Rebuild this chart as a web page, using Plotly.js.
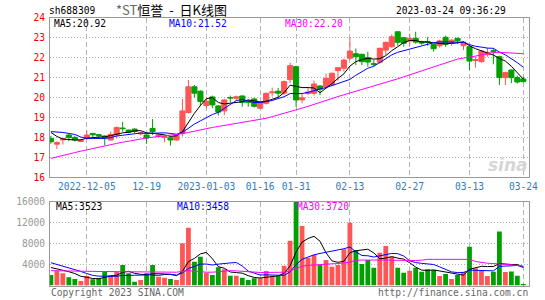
<!DOCTYPE html>
<html><head><meta charset="utf-8">
<script src="https://cdn.plot.ly/plotly-3.0.1.min.js"></script>
<style>html,body{margin:0;padding:0;background:#fff;}#chart{width:545px;height:300px;}</style>
</head><body><div id="chart"></div>
<script>
// trading days (categories)
const dates = [
'2022-11-25','2022-11-28','2022-11-29','2022-11-30',
'2022-12-01','2022-12-02','2022-12-05','2022-12-06','2022-12-07','2022-12-08','2022-12-09','2022-12-12','2022-12-13','2022-12-14','2022-12-15','2022-12-16','2022-12-19','2022-12-20','2022-12-21','2022-12-22','2022-12-23','2022-12-26','2022-12-27','2022-12-28','2022-12-29','2022-12-30',
'2023-01-03','2023-01-04','2023-01-05','2023-01-06','2023-01-09','2023-01-10','2023-01-11','2023-01-12','2023-01-13','2023-01-16','2023-01-17','2023-01-18','2023-01-19','2023-01-20','2023-01-30','2023-01-31',
'2023-02-01','2023-02-02','2023-02-03','2023-02-06','2023-02-07','2023-02-08','2023-02-09','2023-02-10','2023-02-13','2023-02-14','2023-02-15','2023-02-16','2023-02-17','2023-02-20','2023-02-21','2023-02-22','2023-02-23','2023-02-24','2023-02-27','2023-02-28',
'2023-03-01','2023-03-02','2023-03-03','2023-03-06','2023-03-07','2023-03-08','2023-03-09','2023-03-10','2023-03-13','2023-03-14','2023-03-15','2023-03-16','2023-03-17','2023-03-20','2023-03-21','2023-03-22','2023-03-23','2023-03-24'];

const tickDates = ['2022-12-05','2022-12-19','2023-01-03','2023-01-16','2023-01-31','2023-02-13','2023-02-27','2023-03-13','2023-03-24'];
const tickText  = ['2022-12-05','12-19','2023-01-03','01-16','01-31','02-13','02-27','03-13','03-24'];

const open  = [17.95,17.66,17.88,18.12,18.0,17.8,18.0,18.2,18.14,18.07, 17.87,18.12,18.47,18.37,18.42,18.18,18.12,18.45,18.05,18.0, 17.98,17.87,18.2,19.25,20.54,20.32,19.6,20.03,19.58,19.33, 20.0,19.96,20.08,19.83,19.93,19.46,19.71,20.24,20.32,20.22, 20.9,21.55,19.88,20.2,20.21,20.58,20.54,20.63,21.35,21.47, 21.97,22.2,22.17,22.0,21.7,21.77,22.38,22.55,23.3,23.0, 22.84,22.97,22.8,22.8,22.67,22.6,23.02,22.72,22.97,22.6, 22.55,21.86,21.8,22.15,22.35,22.05,21.0,21.38,21.0,20.93];
const high  = [18.08,17.8,17.96,18.2,18.08,17.9,18.36,18.21,18.18,18.1, 18.3,18.54,18.78,18.4,18.45,18.28,18.15,18.92,18.18,18.1, 18.05,18.15,19.93,20.88,20.63,20.36,20.04,20.1,19.62,19.93, 20.1,20.1,20.1,19.9,19.98,19.8,20.25,20.5,20.48,20.85, 21.75,21.6,20.21,20.47,20.85,20.62,21.2,21.25,21.5,21.95, 23.0,22.46,22.2,22.3,21.9,22.5,22.8,23.17,23.32,23.02, 23.2,23.3,22.85,23.03,22.7,22.9,23.1,22.92,23.0,22.8, 22.6,22.05,22.38,22.5,22.47,22.1,21.3,21.4,21.1,21.05];
const low   = [17.68,17.42,17.65,17.8,17.8,17.76,17.87,17.95,17.95,17.6, 17.85,17.95,18.28,18.2,18.22,18.1,17.68,18.12,17.97,17.75, 17.59,17.83,18.05,19.2,20.0,19.58,19.46,19.47,19.1,19.13, 19.75,19.85,19.54,19.54,19.5,19.42,19.65,20.05,19.98,20.12, 20.72,19.54,19.71,20.13,20.1,20.13,20.45,20.6,20.85,21.3, 21.88,21.63,21.63,21.55,21.55,21.7,22.13,22.5,22.6,22.55, 22.6,22.7,22.65,22.6,22.3,22.5,22.55,22.6,22.7,22.38, 21.38,21.5,21.75,22.05,21.67,20.63,20.63,20.72,20.7,20.75];
const close = [17.78,17.74,17.94,18.0,17.87,17.85,18.12,18.13,18.08,17.97, 18.15,18.5,18.44,18.26,18.3,18.22,17.97,18.3,18.12,18.04, 17.87,18.12,19.33,20.54,20.22,19.8,19.82,19.63,19.27,19.88, 19.98,20.04,19.76,19.76,19.56,19.76,20.21,20.28,20.22,20.8, 21.6,19.88,19.99,20.28,20.68,20.42,20.97,21.22,21.5,21.88, 22.33,22.05,21.8,21.78,21.67,22.47,22.77,23.05,22.77,22.72, 22.97,22.78,22.73,22.77,22.45,22.84,22.67,22.88,22.85,22.77, 21.83,21.9,22.33,22.27,22.32,21.0,21.25,21.0,20.78,20.8];

const ma5  = [18.25,18.05,17.92,17.88,17.87,17.88,17.96,17.99,18.01,18.03, 18.09,18.17,18.23,18.26,18.33,18.34,18.23,18.21,18.18,18.13, 18.05,18.08,18.29,18.77,19.21,19.6,19.94,20.0,19.75,19.68, 19.72,19.76,19.79,19.88,19.82,19.78,19.81,19.91,20.01,20.25, 20.62,20.56,20.5,20.5,20.48,20.24,20.46,20.7,20.96,21.19, 21.58,21.8,21.91,21.97,21.93,21.95,22.1,22.35,22.55,22.76, 22.86,22.86,22.79,22.79,22.74,22.71,22.69,22.72,22.74,22.8, 22.6,22.45,22.34,22.22,22.13,21.96,21.83,21.57,21.27,20.92];
const ma10 = [18.29,18.28,18.25,18.2,18.15,18.02,17.95,17.95,17.95,17.95, 17.99,18.07,18.11,18.14,18.18,18.22,18.2,18.22,18.22,18.23, 18.2,18.16,18.25,18.48,18.67,18.83,19.01,19.15,19.26,19.45, 19.66,19.85,19.9,19.82,19.75,19.75,19.79,19.85,19.95,20.04, 20.2,20.19,20.2,20.26,20.36,20.43,20.5,20.6,20.72,20.83, 20.91,21.12,21.3,21.47,21.57,21.77,21.96,22.14,22.27,22.35, 22.41,22.48,22.57,22.67,22.75,22.79,22.78,22.76,22.77,22.77, 22.66,22.57,22.53,22.48,22.47,22.28,22.14,21.96,21.75,21.52];
const ma30 = [16.95,17.03,17.1,17.17,17.24,17.31,17.38,17.45,17.52,17.58, 17.64,17.7,17.76,17.82,17.87,17.92,17.97,18.01,18.04,18.07, 18.1,18.14,18.19,18.25,18.32,18.38,18.44,18.5,18.55,18.6, 18.65,18.7,18.75,18.8,18.85,18.9,18.96,19.04,19.12,19.2, 19.29,19.38,19.47,19.56,19.65,19.75,19.85,19.95,20.05,20.14, 20.22,20.3,20.37,20.46,20.55,20.64,20.74,20.84,20.94,21.04, 21.14,21.24,21.34,21.44,21.54,21.65,21.76,21.86,21.93,21.98, 22.02,22.08,22.14,22.2,22.26,22.27,22.26,22.24,22.22,22.2];

const volume = [2000,2780,2340,1570,1260,880,1830,1200,1390,2650, 2020,2650,3920,2340,750,1070,2340,3920,1700,1500, 1260,1070,8050,11030,4550,5500,2460,2020,3480,3100, 1890,1890,1500,1070,1390,1390,2780,1890,1830,3800, 8560,15900,11350,5300,5830,3920,4880,3600,3920,6910, 11980,6780,4110,4880,3410,6270,7540,5500,3410,2460, 2840,3410,2650,3100,2970,1830,2210,1260,2020,2650, 7410,3290,2970,1830,2650,10300,2600,2700,1900,300];
const volMa5  = [3450,3200,2900,2650,2300,1770,1580,1350,1310,1590, 1820,1980,2530,2720,2340,2150,2080,2080,1960,2110, 2140,1890,2720,4580,5190,6040,6320,5110,3600,3310, 2590,2480,2370,1890,1550,1450,1630,1700,1860,2340, 3770,6400,8290,8980,9390,8460,6260,4710,4430,4650, 6260,6640,6740,6930,6230,5090,5240,5520,5230,5040, 4350,3520,2950,2890,2990,2790,2550,2270,2060,1990, 3110,3330,3670,3630,3630,4210,4070,4020,4030,3523];
const volMa10 = [4360,4050,3730,3400,3100,2700,2300,1950,1800,1790, 1800,1780,1940,2020,1970,1990,2030,2310,2340,2230, 2150,1990,2400,3270,3650,4090,4110,3920,4090,4250, 4320,4400,3740,2750,2430,2020,2060,2040,1880,1950, 2610,4020,5000,5420,5870,6120,6330,6500,6710,7020, 7360,6450,5730,5680,5440,5680,5940,6130,6080,5640, 4720,4380,4240,4060,4020,3570,3040,2610,2480,2490, 2950,2940,2970,2850,2810,3660,3700,3850,3830,3458];
const volMa30 = [2850,2850,2830,2800,2780,2750,2720,2700,2680,2660, 2650,2640,2630,2620,2600,2580,2570,2600,2620,2600, 2580,2550,2700,2850,2750,2600,2550,2550,2650,2800, 2850,2800,2700,2600,2550,2500,2500,2500,2500,2550, 2800,3300,3700,3850,3950,4050,4100,4150,4200,4300, 4450,4850,4880,4880,4880,4880,4850,4820,4800,4780, 4750,4780,4850,5000,5000,5000,5000,5000,5000,5000, 5000,4600,4400,4250,4200,4150,4050,3950,3850,3720];

const priceTicks = [16,17,18,19,20,21,22,23,24];
const volTicks = [4000,8000,12000,16000];
const volTickText = ['4000','8000','12000','16000'];

const UP = '#ff5555', DOWN = '#00a000';
const MONO = 'DejaVu Sans Mono, monospace';
const FS = 9.6;
const W = 545, H = 300;
const px = v => v / W, py = v => 1 - v / H;

const volColors = close.map((c, i) => c >= open[i] ? UP : DOWN);

const traces = [
  {type:'candlestick', x:dates, open:open, high:high, low:low, close:close, xaxis:'x', yaxis:'y',
   increasing:{line:{color:UP,width:1}, fillcolor:UP},
   decreasing:{line:{color:DOWN,width:1}, fillcolor:DOWN},
   whiskerwidth:0, hoverinfo:'skip'},
  {type:'scatter', mode:'lines', x:dates, y:ma5, line:{color:'#000000',width:1}, xaxis:'x', yaxis:'y', hoverinfo:'skip'},
  {type:'scatter', mode:'lines', x:dates, y:ma10, line:{color:'#0000ff',width:1}, xaxis:'x', yaxis:'y', hoverinfo:'skip'},
  {type:'scatter', mode:'lines', x:dates, y:ma30, line:{color:'#ff00ff',width:1}, xaxis:'x', yaxis:'y', hoverinfo:'skip'},
  {type:'bar', x:dates, y:volume, marker:{color:volColors, line:{width:0}}, width:0.8, xaxis:'x2', yaxis:'y2', hoverinfo:'skip'},
  {type:'scatter', mode:'lines', x:dates, y:volMa5, line:{color:'#000000',width:1}, xaxis:'x2', yaxis:'y2', hoverinfo:'skip'},
  {type:'scatter', mode:'lines', x:dates, y:volMa10, line:{color:'#0000ff',width:1}, xaxis:'x2', yaxis:'y2', hoverinfo:'skip'},
  {type:'scatter', mode:'lines', x:dates, y:volMa30, line:{color:'#ff00ff',width:1}, xaxis:'x2', yaxis:'y2', hoverinfo:'skip'}
];

const xDom = [px(50), px(529)];
const xRange = [-0.15, 79.95];
const gridC = '#b4b4b4', lineC = '#999999';

function ann(text, x, y, anchor, color, size, family) {
  return {text:text, x:px(x), y:py(y), xref:'paper', yref:'paper', xanchor:anchor, yanchor:'middle',
          showarrow:false, font:{family:family||MONO, size:size||FS, color:color||'#000'}};
}

const NB = '\u00a0';
const layout = {
  width:W, height:H, margin:{l:0,r:0,t:0,b:0}, paper_bgcolor:'#ffffff', plot_bgcolor:'#ffffff',
  showlegend:false, boxgap:0.15, boxgroupgap:0, bargap:0.2, dragmode:false,
  xaxis:{domain:xDom, type:'category', range:xRange, anchor:'y', tickmode:'array', tickvals:tickDates, ticktext:tickText,
         showgrid:true, gridcolor:gridC, griddash:'5px,3px', gridwidth:1, showline:true, mirror:true, linecolor:lineC, linewidth:1,
         ticks:'', tickfont:{family:MONO, size:FS, color:'#1f80d0'}, rangeslider:{visible:false}, fixedrange:true, tickangle:0},
  yaxis:{domain:[py(177.3), py(17.8)], range:[16,24], tickmode:'array', tickvals:priceTicks, ticktext:priceTicks.map(String),
         showgrid:true, gridcolor:gridC, griddash:'1px,2px', showline:true, mirror:true, linecolor:lineC, linewidth:1,
         zeroline:false, ticks:'', tickfont:{family:MONO, size:FS, color:'#ee0000'}, ticklabelstandoff:2, fixedrange:true},
  xaxis2:{domain:xDom, type:'category', range:xRange, anchor:'y2', tickmode:'array', tickvals:tickDates, showticklabels:false,
          showgrid:true, gridcolor:gridC, griddash:'5px,3px', showline:true, mirror:true, linecolor:lineC, linewidth:1, ticks:'', fixedrange:true},
  yaxis2:{domain:[py(285.6), py(201.6)], range:[0,16000], tickmode:'array', tickvals:volTicks, ticktext:volTickText,
          showgrid:true, gridcolor:gridC, griddash:'1px,2px', showline:true, mirror:true, linecolor:lineC, linewidth:1,
          zeroline:false, ticks:'', tickfont:{family:MONO, size:FS, color:'#999999'}, ticklabelstandoff:2, fixedrange:true},
  annotations:[
    ann('sh688309', 47, 11, 'left'),
    ann('<span style="color:#666">*ST</span>恒誉' + NB + NB + '-' + NB + NB + '日K线图', 114, 10, 'left', '#000', 13, 'Noto Sans CJK SC'),
    ann('2023-03-24 09:36:29', 508, 11, 'right'),
    ann('MA5:20.92', 52, 24, 'left', '#000000'),
    ann('MA10:21.52', 167, 24, 'left', '#0000ff'),
    ann('MA30:22.20', 283, 24, 'left', '#ff00ff'),
    ann('MA5:3523', 54, 206, 'left', '#000000'),
    ann('MA10:3458', 175, 206, 'left', '#0000ff'),
    ann('MA30:3720', 295, 206, 'left', '#ff00ff'),
    ann('Copyright 2023 SINA.COM', 49, 292, 'left', '#666666'),
    ann('http://finance.sina.com.cn', 530, 292, 'right', '#666666'),
    {text:'<i><b>sina</b></i>', x:px(508), y:py(165), xref:'paper', yref:'paper', xanchor:'center', yanchor:'middle', showarrow:false,
     font:{family:'DejaVu Sans', size:17, color:'#d6d6d6'}}
  ]
};

Plotly.newPlot('chart', traces, layout, {staticPlot:true, displayModeBar:false});
</script>
</body></html>
